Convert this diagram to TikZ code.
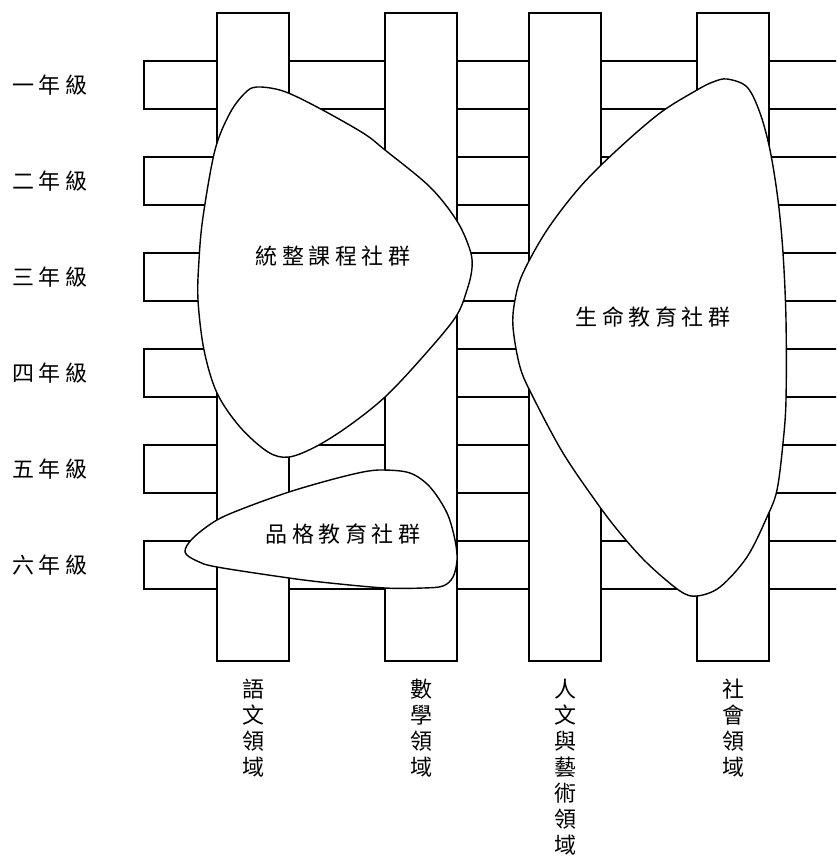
\documentclass[tikz,border=0pt]{standalone}
\usepackage{fontspec}
\newfontfamily\cjk{Noto Sans CJK TC}
\newcommand\gsp{\hspace{4.6pt}}
\begin{document}
\begin{tikzpicture}[x=1pt,y=-1pt,line width=1.3pt,
  bar/.style={draw=black,fill=white},
  blob/.style={draw=black,fill=white,line width=1.4pt},
  lbl/.style={font=\cjk\fontsize{22}{26}\selectfont,inner sep=0pt},
  vlbl/.style={lbl,align=center,anchor=north}]
\useasboundingbox (0,0) rectangle (836,860);
\fill[white] (0,0) rectangle (836,860);
\begin{scope}
\clip (0,0) rectangle (836,860);
\foreach \y in {61,157,253,349,445,541}
  \draw[bar] (144,\y) rectangle (870,{\y+48});
\end{scope}
\foreach \x in {217,385,529,697}
  \draw[bar] (\x,13) rectangle ({\x+72},661);
% blobs
\draw[blob] plot[smooth cycle,tension=0.55] coordinates {
 (257,87) (283,91) (317,107) (363,133) (385,150) (430,187) (457,221) (470,250)
 (472,268) (467,290) (455,318) (420,360) (385,397) (350,425) (317,446) (289,457)
 (268,452) (240,427) (217,393) (204,350) (198,300) (199,260) (203,217) (215,150)
 (230,113) (245,93)};
\draw[blob] plot[smooth cycle,tension=0.55] coordinates {
 (727,79) (747,87) (760,113) (770,150) (778,200) (783,253) (786,320) (786,400)
 (783,443) (777,490) (767,517) (747,557) (720,587) (697,596) (680,591) (647,563)
 (620,533) (597,503) (563,453) (533,397) (520,367) (513,327) (515,300) (523,273)
 (547,230) (580,187) (617,150) (660,113) (697,90) (713,82)};
\draw[blob] plot[smooth cycle,tension=0.55] coordinates {
 (185,552) (193,538) (217,520) (247,507) (289,492) (330,480) (363,472) (383,470)
 (410,473) (430,487) (447,513) (455,540) (457,560) (453,577) (443,586) (423,588)
 (385,588) (330,583) (289,578) (217,567) (197,561)};
% blob labels
\node[lbl] (g1) at (333,256) {統\gsp 整\gsp 課\gsp 程\gsp 社\gsp 群};
\node[lbl] (g2) at (653,317) {生\gsp 命\gsp 教\gsp 育\gsp 社\gsp 群};
\node[lbl] (g3) at (343,534) {品\gsp 格\gsp 教\gsp 育\gsp 社\gsp 群};
% grade labels
\node[lbl] (r1) at (50,85)  {一\gsp 年\gsp 級};
\node[lbl] (r2) at (50,181) {二\gsp 年\gsp 級};
\node[lbl] (r3) at (50,277) {三\gsp 年\gsp 級};
\node[lbl] (r4) at (50,373) {四\gsp 年\gsp 級};
\node[lbl] (r5) at (50,469) {五\gsp 年\gsp 級};
\node[lbl] (r6) at (50,565) {六\gsp 年\gsp 級};
% domain labels
\node[vlbl] (c1) at (253,678) {語\\文\\領\\域};
\node[vlbl] (c2) at (421,678) {數\\學\\領\\域};
\node[vlbl] (c3) at (565,678) {人\\文\\與\\藝\\術\\領\\域};
\node[vlbl] (c4) at (733,678) {社\\會\\領\\域};
\end{tikzpicture}
\end{document}
